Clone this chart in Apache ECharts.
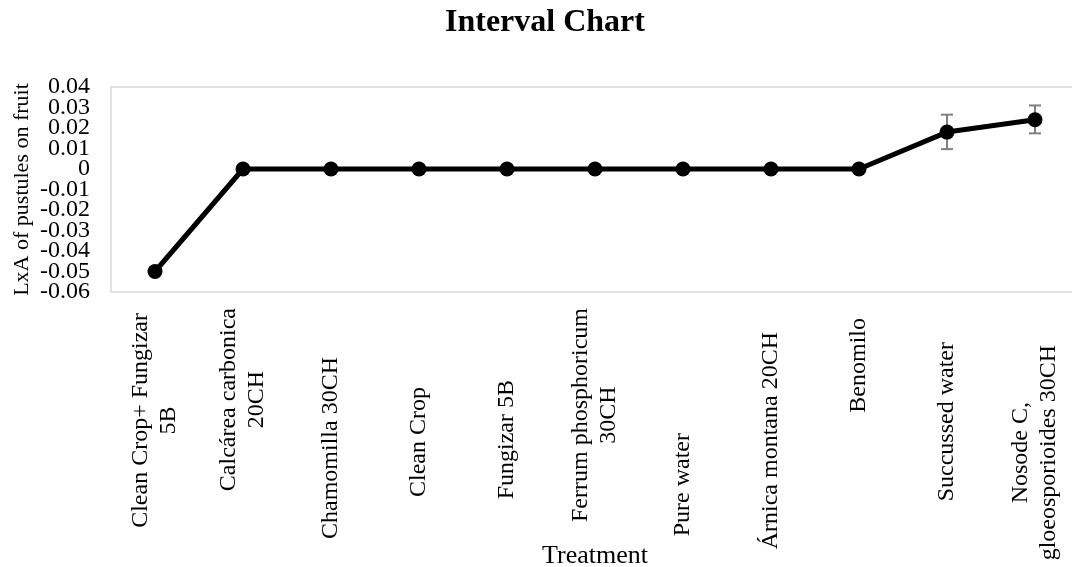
<!DOCTYPE html>
<html>
<head>
<meta charset="utf-8">
<script src="https://cdn.jsdelivr.net/npm/echarts@6/dist/echarts.min.js"></script>
<style>
html,body{margin:0;padding:0;background:#fff;}
#chart{width:1072px;height:567px;}
</style>
</head>
<body>
<div id="chart"></div>
<script>
// ---- data ----
const categories = [
  'Clean Crop+ Fungizar\n5B',
  'Calcárea carbonica\n20CH',
  'Chamomilla 30CH',
  'Clean Crop',
  'Fungizar 5B',
  'Ferrum phosphoricum\n30CH',
  'Pure water',
  'Árnica montana 20CH',
  'Benomilo',
  'Succussed water',
  'Nosode C,\ngloeosporioides 30CH'
];
const values   = [-0.05, 0, 0, 0, 0, 0, 0, 0, 0, 0.018, 0.024];
const errLower = [null, null, null, null, null, null, null, null, null, 0.0097, 0.0174];
const errUpper = [null, null, null, null, null, null, null, null, null, 0.0265, 0.031];
const yTicks = { min: -0.06, max: 0.04, step: 0.01 };

// ---- styling (label distances from axis, px) ----
const labelGap = [21, 16, 65, 95, 88, 16, 141, 40, 26, 50, 53];
const FONT = "'Liberation Serif', 'Times New Roman', serif";

const rich = {};
labelGap.forEach((g, i) => {
  rich['r' + i] = { fontFamily: FONT, fontSize: 24, color: '#000', align: 'center', padding: [0, g, 0, 0], lineHeight: 28 };
});

const errData = [];
categories.forEach((c, i) => {
  if (errLower[i] != null && errUpper[i] != null) errData.push([i, errLower[i], errUpper[i]]);
});

const fmt = v => String(Number(v.toFixed(2)));
const isEnd = v => Math.abs(v - yTicks.min) < 1e-9 || Math.abs(v - yTicks.max) < 1e-9;

const yBase = {
  type: 'value',
  position: 'left',
  min: yTicks.min, max: yTicks.max, interval: yTicks.step,
  axisLine: { show: false },
  axisTick: { show: false },
  splitLine: { show: false }
};

const chart = echarts.init(document.getElementById('chart'), null, { renderer: 'canvas' });
chart.setOption({
  backgroundColor: '#fff',
  animation: false,
  title: {
    text: 'Interval Chart',
    left: 445, top: 7, padding: 0,
    textStyle: { fontFamily: FONT, fontSize: 32, fontWeight: 'bold', color: '#000' }
  },
  grid: {
    left: 111, right: -7, top: 87, bottom: 567 - 292,
    outerBoundsMode: 'none', containLabel: false,
    show: true, borderColor: '#d9d9d9', borderWidth: 1.5, backgroundColor: 'transparent'
  },
  xAxis: {
    type: 'category',
    data: categories,
    boundaryGap: true,
    axisLine: { show: false, onZero: false },
    axisTick: { show: false },
    splitLine: { show: false },
    axisLabel: {
      interval: 0, rotate: 90, margin: 0,
      fontFamily: FONT, fontSize: 24, color: '#000', lineHeight: 28,
      formatter: (v, idx) => v.split('\n').map(l => '{r' + idx + '|' + l + '}').join('\n'),
      rich: rich
    },
    name: 'Treatment',
    nameLocation: 'middle',
    nameGap: 251,
    nameMoveOverlap: false,
    nameTextStyle: { fontFamily: FONT, fontSize: 26, color: '#000' }
  },
  yAxis: [
    Object.assign({}, yBase, {
      axisLabel: {
        margin: 21, fontFamily: FONT, fontSize: 24, color: '#000',
        showMinLabel: true, showMaxLabel: true, hideOverlap: false,
        formatter: v => isEnd(v) ? fmt(v) : ''
      },
      name: 'LxA of pustules on fruit',
      nameLocation: 'middle',
      nameRotate: 90,
      nameGap: 78,
      nameMoveOverlap: false,
      nameTextStyle: { fontFamily: FONT, fontSize: 22, color: '#000' }
    }),
    Object.assign({}, yBase, {
      offset: 0,
      axisLabel: {
        margin: 21, fontFamily: FONT, fontSize: 24, color: '#000',
        showMinLabel: false, showMaxLabel: false, hideOverlap: false,
        formatter: fmt
      }
    })
  ],
  series: [
    {
      type: 'custom',
      z: 2,
      data: errData,
      renderItem: function (params, api) {
        const x = api.value(0);
        const lo = api.coord([x, api.value(1)]);
        const hi = api.coord([x, api.value(2)]);
        const hw = 6;
        const st = { stroke: '#7f7f7f', lineWidth: 2 };
        return {
          type: 'group',
          children: [
            { type: 'line', shape: { x1: lo[0], y1: lo[1], x2: hi[0], y2: hi[1] }, style: st },
            { type: 'line', shape: { x1: lo[0] - hw, y1: lo[1], x2: lo[0] + hw, y2: lo[1] }, style: st },
            { type: 'line', shape: { x1: hi[0] - hw, y1: hi[1], x2: hi[0] + hw, y2: hi[1] }, style: st }
          ]
        };
      }
    },
    {
      type: 'line',
      z: 3,
      data: values,
      symbol: 'circle',
      symbolSize: 15,
      itemStyle: { color: '#000' },
      lineStyle: { color: '#000', width: 5 }
    }
  ]
});
</script>
</body>
</html>
